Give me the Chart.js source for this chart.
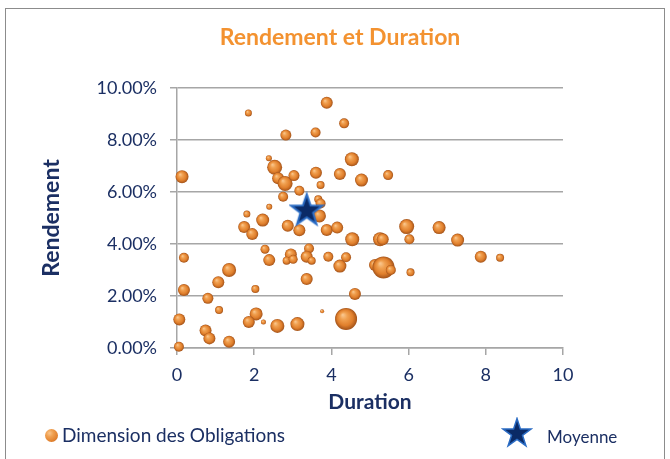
<!DOCTYPE html>
<html>
<head>
<meta charset="utf-8">
<script src="https://cdn.jsdelivr.net/npm/chart.js@4.4.1/dist/chart.umd.min.js"></script>
<style>
  body { margin: 0; background: #fff; font-family: Lato, sans-serif; }
  #cadre { position: absolute; left: 5px; top: 8px; width: 658px; height: 460px; border: 1px solid #8c8c8c; }
  #zone { position: absolute; left: 0; top: 0; width: 670px; height: 459px; }
  .leg { position: absolute; color: #1b2f63; white-space: nowrap; }
  .boule { position: absolute; width: 13px; height: 13px; border-radius: 50%;
           background: radial-gradient(circle at 35% 32%, #f9c48a 0%, #f0a050 30%, #e07f2c 70%, #a3531a 100%); }
</style>
</head>
<body>
<div id="cadre"></div>
<div id="zone"><canvas id="graphe"></canvas></div>
<div class="boule" style="left:45px;top:429px"></div>
<div class="leg" style="left:62px;top:423px;font-size:19px">Dimension des Obligations</div>
<svg style="position:absolute;left:501px;top:417px" width="32" height="32" viewBox="0 0 32 32">
  <polygon points="16,1.5 19.4,11.9 30.3,11.9 21.5,18.3 24.9,28.7 16,22.3 7.1,28.7 10.5,18.3 1.7,11.9 12.6,11.9"
           fill="#0a2a66" stroke="#2b6cc4" stroke-width="1.5"/>
</svg>
<div class="leg" style="left:547px;top:426px;font-size:17px">Moyenne</div>
<script>
// Obligations : duration (années), rendement (%), taille de la bulle
const duration = [0.05, 0.06, 0.13, 0.18, 0.18, 0.74, 0.84, 0.80, 1.09, 1.07,
                  1.35, 1.35, 1.85, 1.81, 1.74, 1.95, 2.03, 2.05, 1.86, 2.22,
                  2.28, 2.39, 2.24, 2.38, 2.39, 2.53, 2.62, 2.80, 2.82, 2.75,
                  2.87, 2.95, 2.84, 3.01, 2.60, 3.12, 3.03, 3.17, 3.17, 3.36,
                  3.42, 3.36, 3.49, 3.59, 3.60, 3.72, 3.66, 3.72, 3.69, 3.76,
                  3.88, 3.88, 3.92, 4.15, 4.22, 4.22, 4.33, 4.38, 4.38, 4.53,
                  4.54, 4.61, 4.78, 5.47, 5.26, 5.33, 5.13, 5.35, 5.54, 5.95,
                  6.02, 6.05, 6.79, 7.27, 7.87, 8.37];
const rendement = [0.05, 1.10, 6.59, 3.47, 2.23, 0.67, 0.37, 1.91, 1.46, 2.53,
                   3.00, 0.24, 9.04, 5.15, 4.65, 4.38, 2.27, 1.31, 1.00, 4.92,
                   3.80, 3.38, 1.00, 7.30, 5.43, 6.95, 6.53, 6.33, 8.19, 5.82,
                   4.70, 3.60, 3.36, 3.41, 0.85, 0.92, 6.63, 6.05, 4.53, 2.65,
                   3.83, 3.51, 3.36, 8.29, 6.74, 6.27, 5.72, 5.56, 5.08, 1.41,
                   9.43, 4.54, 3.51, 4.63, 6.69, 3.15, 8.64, 3.49, 1.12, 7.26,
                   4.18, 2.08, 6.46, 6.65, 4.18, 4.18, 3.19, 3.10, 3.00, 4.67,
                   4.18, 2.91, 4.63, 4.15, 3.51, 3.47];
const taille = [5, 6, 6.5, 5, 6, 6, 6, 5.5, 4, 6,
                7, 6, 3.5, 3.5, 6, 6, 4, 6.5, 6, 6.5,
                4.5, 6, 2.5, 3, 3, 7.5, 6, 7.5, 5.5, 5,
                6, 6, 4, 4.5, 7, 7, 5.5, 5, 6, 6,
                5, 6, 4, 5, 6, 4, 4, 5, 6.5, 2,
                6, 6, 5, 6, 6, 6.5, 5, 5, 11, 7,
                7, 6, 6.5, 5, 7, 6, 6, 11, 5, 7.5,
                5, 4, 6.5, 6.5, 6, 4];
// Point moyen
const moyenneDuration = 3.36;
const moyenneRendement = 5.33;
const titre = 'Rendement et Duration';

const navy = '#1b2f63';
const gris = '#a6a6a6';

function boule(ctx) {
  const chart = ctx.chart;
  const raw = ctx.raw;
  if (!raw || !chart.chartArea) return '#e8893a';
  const px = chart.scales.x.getPixelForValue(raw.x);
  const py = chart.scales.y.getPixelForValue(raw.y);
  const r = raw.r;
  const g = chart.ctx.createRadialGradient(px - r * 0.3, py - r * 0.36, r * 0.05, px, py, r);
  g.addColorStop(0, '#f9c48a');
  g.addColorStop(0.3, '#f0a050');
  g.addColorStop(0.7, '#e07f2c');
  g.addColorStop(1, '#a3531a');
  return g;
}

function etoile(t) {
  const c = document.createElement('canvas');
  c.width = c.height = t;
  const g = c.getContext('2d');
  const R = t / 2 - 1.5, r = R * 0.4, cx = t / 2, cy = t / 2 + R * 0.08;
  g.beginPath();
  for (let i = 0; i < 10; i++) {
    const a = -Math.PI / 2 + i * Math.PI / 5;
    const rr = i % 2 ? r : R;
    g.lineTo(cx + rr * Math.cos(a), cy + rr * Math.sin(a));
  }
  g.closePath();
  g.fillStyle = '#0a2a66';
  g.fill();
  g.lineWidth = 2;
  g.strokeStyle = '#2b6cc4';
  g.stroke();
  return c;
}

// titre centré sur la page, pas sur la zone du graphe
const titrePlugin = {
  id: 'titre',
  afterDraw(chart) {
    const c = chart.ctx;
    c.save();
    c.font = 'bold 23px Lato';
    c.fillStyle = '#f39230';
    c.textAlign = 'center';
    c.textBaseline = 'middle';
    c.fillText(titre, 340, 38);
    c.restore();
  }
};

const obligations = duration.map((d, i) => ({ x: d, y: rendement[i], r: taille[i] }));

new Chart(document.getElementById('graphe'), {
  type: 'bubble',
  data: {
    datasets: [
      {
        label: 'Moyenne',
        data: [{ x: moyenneDuration, y: moyenneRendement, r: 17 }],
        pointStyle: etoile(36),
        order: 0,
        clip: false
      },
      {
        label: 'Dimension des Obligations',
        data: obligations,
        backgroundColor: boule,
        borderWidth: 0,
        order: 1,
        clip: false
      }
    ]
  },
  plugins: [titrePlugin],
  options: {
    responsive: true,
    maintainAspectRatio: false,
    animation: false,
    layout: { padding: { left: 10, right: 107, top: 88, bottom: 44 } },
    plugins: {
      legend: { display: false },
      tooltip: { enabled: false }
    },
    scales: {
      x: {
        type: 'linear',
        min: 0,
        max: 10,
        ticks: { stepSize: 2, color: navy, font: { family: 'Lato', size: 18 }, padding: 9 },
        grid: { drawOnChartArea: false, tickLength: 7, tickColor: gris, lineWidth: 1.5 },
        border: { color: gris, width: 1.5 },
        title: { display: true, text: 'Duration', color: navy,
                 font: { family: 'Lato', size: 21, weight: 'bold' }, padding: { top: 2, bottom: 0 } },
        afterFit: s => { s.height = 67; }
      },
      y: {
        min: 0,
        max: 10,
        ticks: { stepSize: 2, color: navy, font: { family: 'Lato', size: 18 }, padding: 13,
                 callback: v => v.toFixed(2) + '%' },
        grid: { color: gris, lineWidth: 1.5, tickLength: 7 },
        border: { color: gris, width: 1.5 },
        title: { display: true, text: 'Rendement', color: navy,
                 font: { family: 'Lato', size: 23, weight: 'bold' }, padding: { top: 28, bottom: 0 } },
        afterFit: s => { s.width = 167; }
      }
    }
  }
});
</script>
</body>
</html>
